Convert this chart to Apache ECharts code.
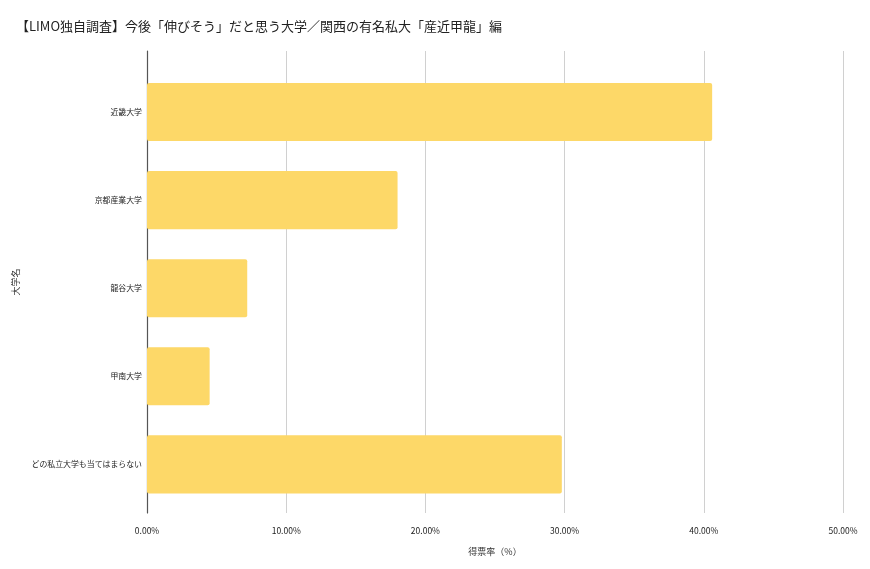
<!DOCTYPE html>
<html><head><meta charset="utf-8">
<script src="https://cdn.jsdelivr.net/npm/echarts@6/dist/echarts.min.js"></script>
<style>html,body{margin:0;padding:0;background:#fff}#c{width:870px;height:569px}</style>
</head><body><div id="c"></div>
<script>
const titleText = '【LIMO独自調査】今後「伸びそう」だと思う大学／関西の有名私大「産近甲龍」編';
const categories = ['近畿大学', '京都産業大学', '龍谷大学', '甲南大学', 'どの私立大学も当てはまらない'];
const values = [40.6, 18.0, 7.2, 4.5, 29.8];
const xTicks = [0, 10, 20, 30, 40, 50];
const xName = '得票率（%）';
const yName = '大学名';

const font = '"Noto Sans CJK JP", Roboto, sans-serif';
const chart = echarts.init(document.getElementById('c'), null, {renderer: 'canvas'});
chart.setOption({
  backgroundColor: '#fff',
  animation: false,
  textStyle: {fontFamily: font},
  title: {text: titleText, left: 11, top: 15,
    textStyle: {fontSize: 13, fontWeight: 'normal', color: '#222', fontFamily: font}},
  grid: [
    {left: 147, right: 27, top: 68, bottom: 60.6},
    {left: 147, right: 27, top: 51, bottom: 56}
  ],
  xAxis: [
    {gridIndex: 0, type: 'value', min: xTicks[0], max: xTicks[xTicks.length - 1], interval: 10,
      axisLabel: {show: false}, splitLine: {show: false}, axisLine: {show: false}, axisTick: {show: false}},
    {gridIndex: 1, type: 'value', min: xTicks[0], max: xTicks[xTicks.length - 1], interval: 10,
      axisLine: {show: false}, axisTick: {show: false},
      splitLine: {show: true, lineStyle: {color: '#d0d0d0', width: 1}},
      axisLabel: {fontSize: 8.5, color: '#222', margin: 14, formatter: v => v.toFixed(2) + '%'},
      name: xName, nameLocation: 'middle', nameGap: 34,
      nameTextStyle: {fontSize: 9, color: '#333'}}
  ],
  yAxis: [
    {gridIndex: 0, type: 'category', data: categories, inverse: true,
      axisLine: {show: false}, axisTick: {show: false},
      axisLabel: {fontSize: 7.9, color: '#222', margin: 5}},
    {gridIndex: 1, type: 'value', min: 0, max: 1,
      axisLabel: {show: false}, splitLine: {show: false}, axisTick: {show: false},
      axisLine: {show: true, lineStyle: {color: '#555', width: 1.2}},
      name: yName, nameLocation: 'middle', nameGap: 127, nameRotate: 90,
      nameTextStyle: {fontSize: 9, color: '#333'}}
  ],
  series: [{
    type: 'bar', xAxisIndex: 0, yAxisIndex: 0, data: values,
    barCategoryGap: '34%',
    itemStyle: {color: '#FDD868', borderRadius: 2}
  }]
});
</script></body></html>
